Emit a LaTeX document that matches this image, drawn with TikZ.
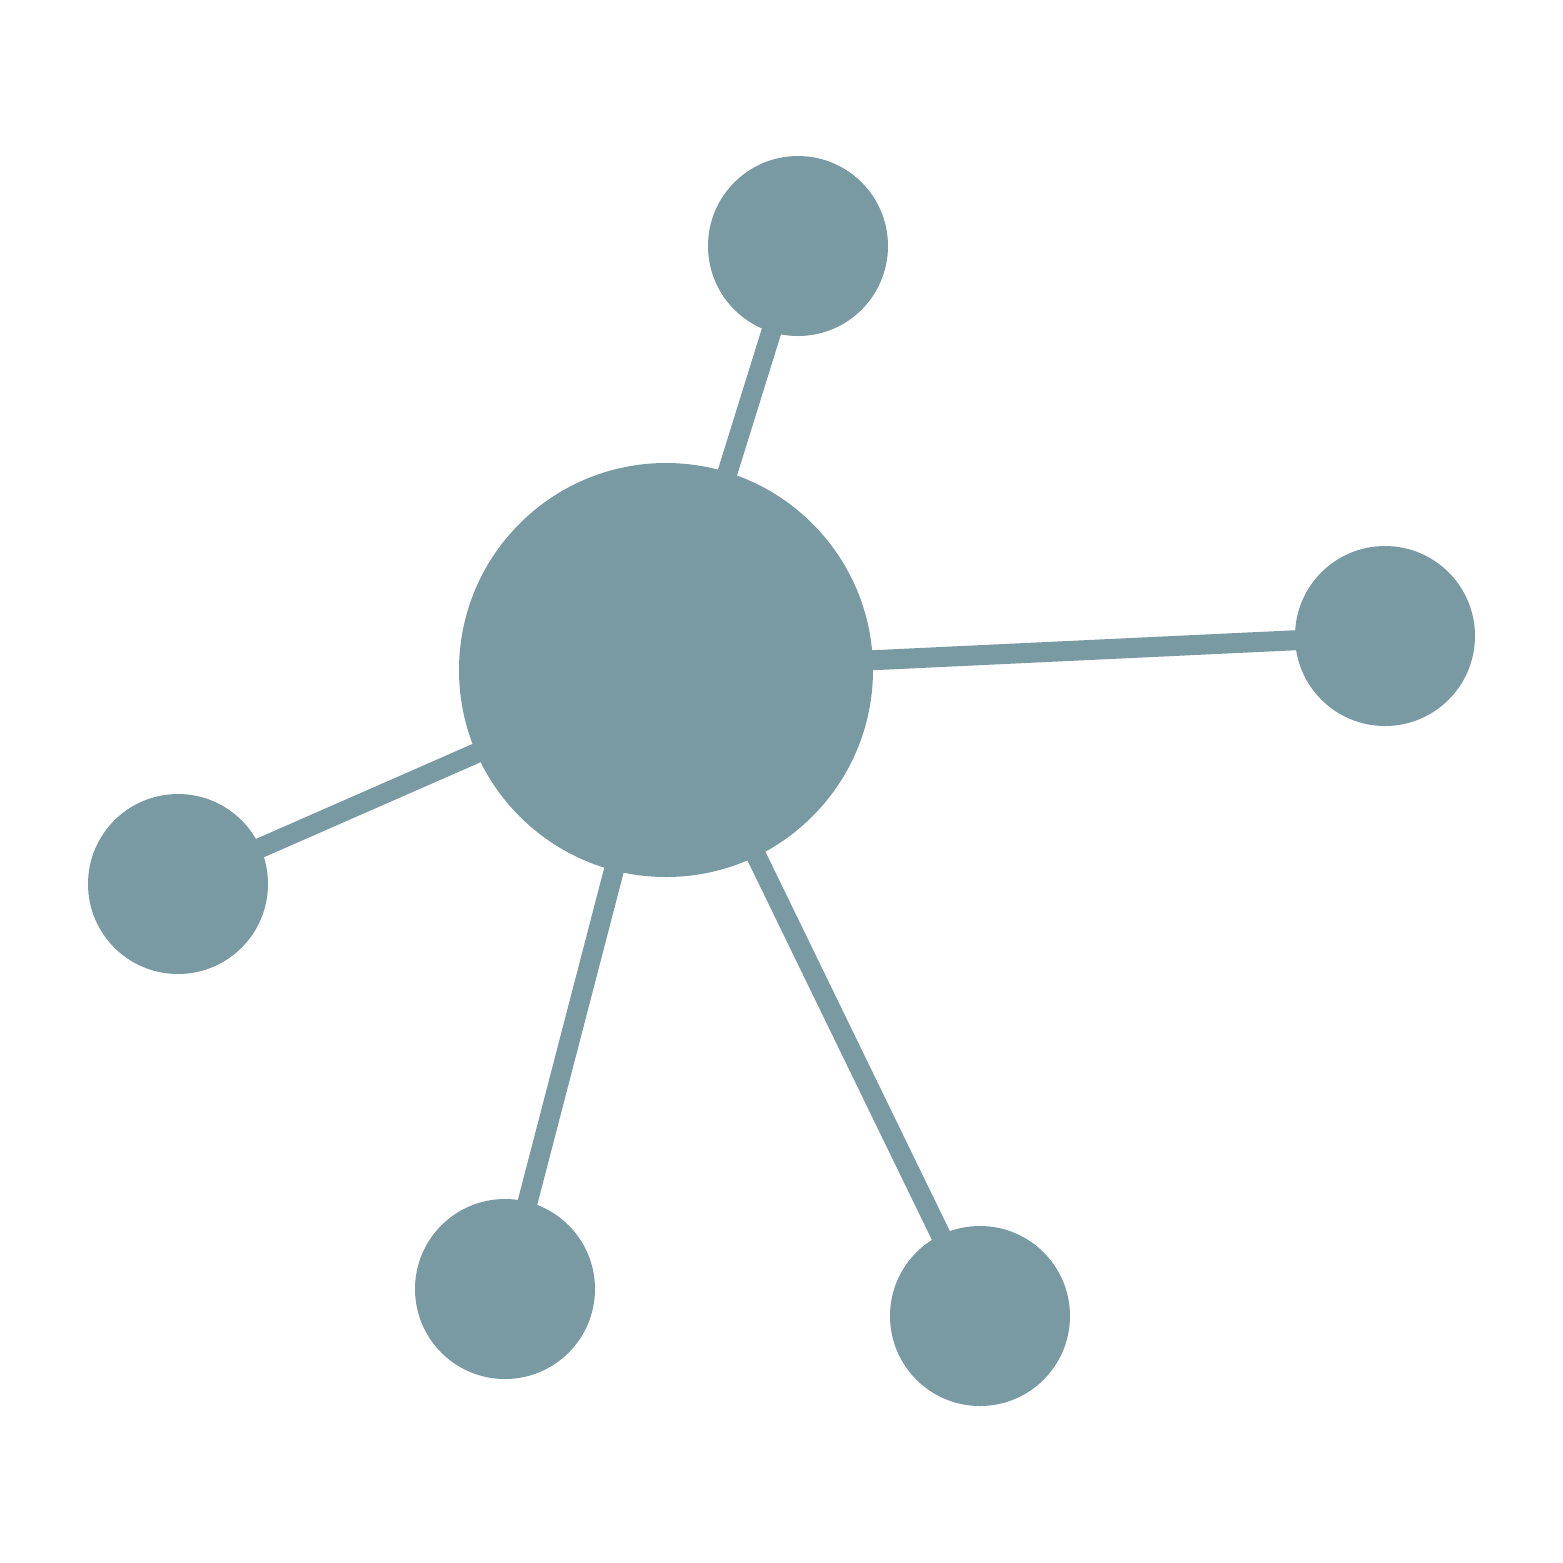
\documentclass[tikz,border=0pt]{standalone}
\usepackage{tikz}
\usepackage{xcolor}
\definecolor{hubgray}{HTML}{7A9AA3}

\begin{document}
\begin{tikzpicture}[
    hubnode/.style={circle, fill=hubgray, draw=none, inner sep=0pt, minimum size=4.14cm},
    satnode/.style={circle, fill=hubgray, draw=none, inner sep=0pt, minimum size=1.8cm},
    spoke/.style={draw=hubgray, line width=0.2cm, shorten >=-2pt, shorten <=-2pt}
    ]
    \useasboundingbox (0,0) rectangle (15.63,-15.63);
    % the hub and its satellites
        \node[hubnode] (hub) at (6.66,-6.70) {};
        \node[satnode] (top) at (7.98,-2.46) {};
        \node[satnode] (right) at (13.85,-6.36) {};
        \node[satnode] (left) at (1.78,-8.84) {};
        \node[satnode] (botleft) at (5.05,-12.89) {};
        \node[satnode] (botright) at (9.80,-13.16) {};

       \draw[spoke]
			(hub) edge (top)
			(hub) edge (right)
			(hub) edge (left)
			(hub) edge (botleft)
			(hub) edge (botright)
            ;
    \end{tikzpicture}
\end{document}
